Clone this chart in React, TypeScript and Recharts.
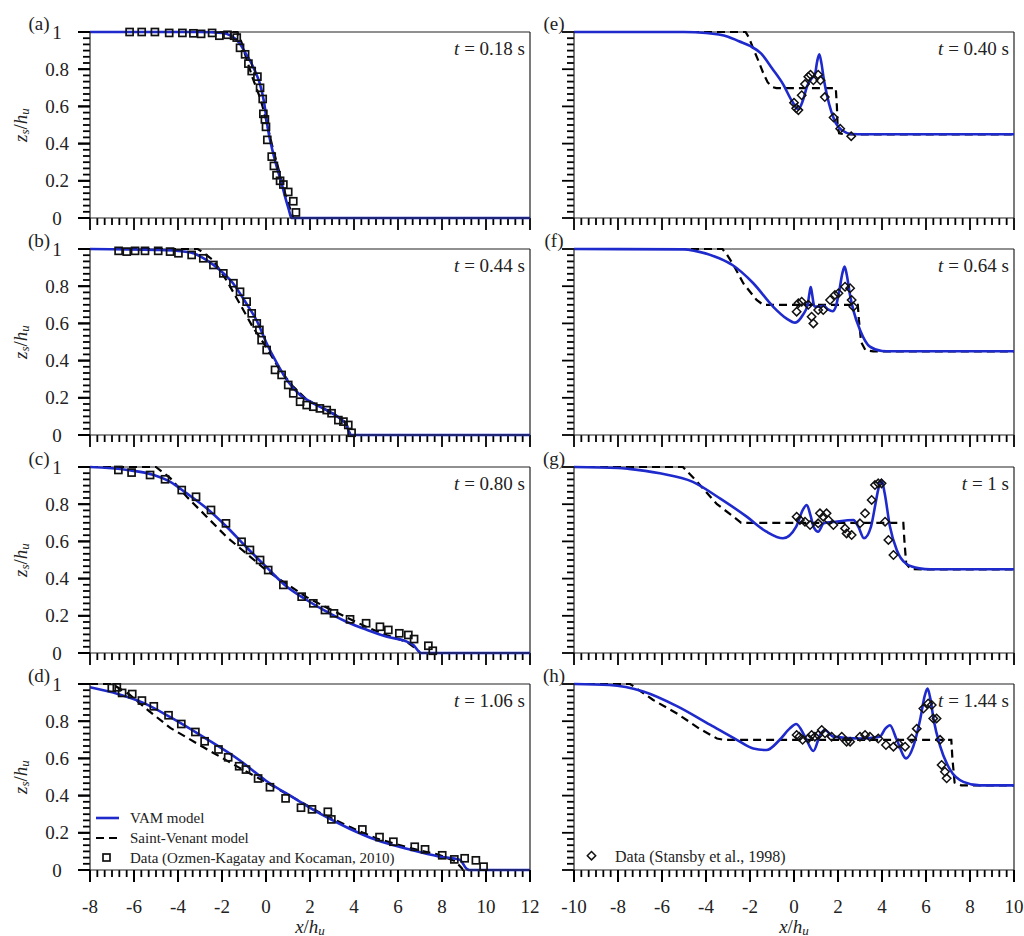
import React from 'react';
import { ComposedChart, Line, Scatter, XAxis, YAxis, ReferenceLine } from 'recharts';

type Pt = [number, number];

// ---------- Tick labels ----------
const leftMajorX = [-8, -6, -4, -2, 0, 2, 4, 6, 8, 10, 12];
const rightMajorX = [-10, -8, -6, -4, -2, 0, 2, 4, 6, 8, 10];
const majorY = [0, 0.2, 0.4, 0.6, 0.8, 1];

// ---------- Panel (a) t = 0.18 s ----------
const vamA: Pt[] = [[-8, 1], [-3, 1], [-2, 0.995], [-1.6, 0.98], [-1.2, 0.94], [-0.9, 0.88], [-0.7, 0.84], [-0.5, 0.79], [-0.3, 0.73], [-0.1, 0.63], [0.1, 0.47], [0.3, 0.36], [0.5, 0.27], [0.7, 0.19], [0.9, 0.1], [1.05, 0.04], [1.15, 0], [12, 0]];
const svA: Pt[] = [[-8, 1], [-1.3, 1], [-1.1, 0.94], [-0.9, 0.86], [-0.6, 0.75], [-0.25, 0.64], [0, 0.53], [0.3, 0.38], [0.6, 0.25], [0.9, 0.12], [1.15, 0.03], [1.25, 0], [12, 0]];
const obsA: Pt[] = [[-6.2, 1], [-5.65, 1], [-5.05, 1], [-4.4, 0.995], [-3.8, 0.995], [-3.3, 0.993], [-2.95, 0.99], [-2.45, 0.995], [-2.12, 0.98], [-1.75, 0.985], [-1.45, 0.98], [-1.33, 0.97], [-1.18, 0.915], [-0.95, 0.88], [-0.8, 0.83], [-0.65, 0.79], [-0.39, 0.76], [-0.27, 0.7], [-0.15, 0.64], [-0.12, 0.56], [-0.05, 0.53], [0.0, 0.49], [0.06, 0.42], [0.26, 0.33], [0.36, 0.28], [0.48, 0.23], [0.64, 0.2], [0.79, 0.18], [1.01, 0.14], [1.24, 0.09], [1.36, 0.03]];

// ---------- Panel (b) t = 0.44 s ----------
const vamB: Pt[] = [[-8, 1], [-5, 0.995], [-4, 0.99], [-3.3, 0.977], [-2.7, 0.94], [-2.1, 0.887], [-1.5, 0.816], [-0.9, 0.708], [-0.4, 0.61], [0, 0.5], [0.5, 0.385], [0.95, 0.296], [1.55, 0.215], [2.15, 0.17], [2.75, 0.134], [3.35, 0.09], [3.65, 0.055], [3.8, 0.01], [3.85, 0], [12, 0]];
const svB: Pt[] = [[-8, 1], [-3.1, 1], [-2.9, 0.985], [-2.4, 0.94], [-1.8, 0.833], [-1.2, 0.708], [-0.6, 0.58], [0, 0.475], [0.6, 0.355], [1.2, 0.265], [1.85, 0.19], [2.45, 0.152], [3.05, 0.117], [3.65, 0.065], [3.8, 0.01], [3.85, 0], [12, 0]];
const obsB: Pt[] = [[-6.7, 0.99], [-6.33, 0.986], [-5.95, 0.99], [-5.5, 0.99], [-4.9, 0.99], [-4.36, 0.986], [-3.98, 0.977], [-3.38, 0.968], [-2.85, 0.95], [-2.39, 0.914], [-1.94, 0.869], [-1.48, 0.816], [-1.18, 0.77], [-0.88, 0.717], [-0.65, 0.654], [-0.42, 0.6], [-0.3, 0.565], [-0.2, 0.51], [0.03, 0.457], [0.41, 0.35], [0.71, 0.323], [1.01, 0.269], [1.24, 0.224], [1.55, 0.179], [1.85, 0.161], [2.15, 0.152], [2.45, 0.143], [2.76, 0.134], [2.98, 0.117], [3.29, 0.08], [3.52, 0.072], [3.74, 0.054], [3.89, 0.012]];

// ---------- Panel (c) t = 0.80 s ----------
const vamC: Pt[] = [[-8, 1], [-6.3, 0.984], [-5.1, 0.957], [-4.35, 0.92], [-3.6, 0.858], [-2.7, 0.778], [-1.8, 0.68], [-0.9, 0.57], [0, 0.464], [0.95, 0.356], [1.85, 0.285], [2.75, 0.222], [3.65, 0.168], [4.6, 0.124], [5.5, 0.088], [6.4, 0.061], [6.7, 0.043], [7.0, 0.002], [7.05, 0], [12, 0]];
const svC: Pt[] = [[-8, 1], [-5.0, 1], [-4.35, 0.94], [-3.6, 0.84], [-2.7, 0.733], [-1.8, 0.625], [-0.9, 0.536], [0, 0.446], [0.95, 0.37], [1.85, 0.3], [2.75, 0.245], [3.65, 0.192], [4.6, 0.138], [5.5, 0.095], [6.4, 0.06], [6.9, 0.016], [7.0, 0], [12, 0]];
const obsC: Pt[] = [[-6.71, 0.984], [-6.11, 0.97], [-5.27, 0.957], [-4.59, 0.934], [-3.83, 0.876], [-3.18, 0.84], [-2.5, 0.769], [-1.82, 0.697], [-1.11, 0.598], [-0.73, 0.554], [-0.27, 0.5], [0.1, 0.446], [0.79, 0.366], [1.62, 0.303], [2.15, 0.267], [2.68, 0.231], [3.09, 0.213], [3.82, 0.181], [4.55, 0.16], [5.18, 0.141], [5.56, 0.124], [6.06, 0.106], [6.47, 0.097], [6.73, 0.075], [7.38, 0.039], [7.58, 0.012]];

// ---------- Panel (d) t = 1.06 s ----------
const vamD: Pt[] = [[-8, 0.982], [-6.7, 0.945], [-5.6, 0.9], [-4.35, 0.822], [-2.8, 0.712], [-1.2, 0.59], [0, 0.48], [1.3, 0.385], [2.5, 0.3], [3.8, 0.222], [5.0, 0.162], [6.6, 0.108], [7.85, 0.073], [8.8, 0.055], [9.15, 0.004], [9.25, 0], [12, 0]];
const svD: Pt[] = [[-8, 1], [-7.0, 1], [-6.2, 0.943], [-5.3, 0.853], [-4.35, 0.764], [-2.8, 0.657], [-1.2, 0.549], [0, 0.472], [1.3, 0.385], [2.5, 0.305], [3.8, 0.232], [5.0, 0.17], [6.6, 0.116], [7.85, 0.082], [8.6, 0.048], [8.9, 0.01], [8.95, 0], [12, 0]];
const obsD: Pt[] = [[-7.01, 0.979], [-6.78, 0.982], [-6.54, 0.952], [-6.08, 0.946], [-5.64, 0.911], [-5.1, 0.88], [-4.43, 0.832], [-3.85, 0.785], [-3.21, 0.742], [-2.79, 0.692], [-2.16, 0.648], [-1.72, 0.606], [-1.22, 0.558], [-0.91, 0.54], [-0.36, 0.492], [0.18, 0.445], [0.89, 0.385], [1.59, 0.335], [2.09, 0.326], [2.81, 0.313], [2.97, 0.272], [4.38, 0.218], [5.16, 0.177], [5.79, 0.152], [6.76, 0.125], [7.23, 0.111], [8.01, 0.079], [8.56, 0.057], [9.03, 0.063], [9.54, 0.052], [9.89, 0.018]];

// ---------- Panel (e) t = 0.40 s ----------
const vamE: Pt[] = [[-10, 1], [-5, 1], [-4, 0.995], [-3, 0.975], [-2.5, 0.95], [-2, 0.925], [-1.5, 0.885], [-1, 0.805], [-0.5, 0.72], [-0.1, 0.63], [0.2, 0.585], [0.4, 0.63], [0.6, 0.71], [0.8, 0.75], [0.95, 0.77], [1.05, 0.84], [1.15, 0.88], [1.25, 0.83], [1.35, 0.75], [1.5, 0.66], [1.7, 0.57], [1.9, 0.51], [2.2, 0.47], [2.6, 0.452], [3.2, 0.45], [10, 0.45]];
const svE: Pt[] = [[-10, 1], [-2.2, 1], [-2.05, 0.97], [-1.85, 0.91], [-1.6, 0.84], [-1.4, 0.78], [-1.2, 0.73], [-1.0, 0.705], [-0.8, 0.698], [1.9, 0.698], [1.95, 0.6], [1.98, 0.5], [2.05, 0.455], [2.3, 0.45], [10, 0.45]];
const obsE: Pt[] = [[0.0, 0.62], [0.1, 0.59], [0.2, 0.58], [0.35, 0.66], [0.5, 0.72], [0.65, 0.76], [0.75, 0.77], [0.88, 0.74], [1.1, 0.77], [1.2, 0.74], [1.4, 0.65], [1.8, 0.54], [2.1, 0.48], [2.6, 0.44]];

// ---------- Panel (f) t = 0.64 s ----------
const vamF: Pt[] = [[-10, 1], [-5, 0.998], [-4.5, 0.99], [-3.4, 0.95], [-2.8, 0.914], [-1.85, 0.816], [-0.95, 0.69], [-0.35, 0.627], [0.05, 0.604], [0.4, 0.645], [0.62, 0.7], [0.7, 0.76], [0.76, 0.795], [0.82, 0.76], [0.9, 0.7], [0.95, 0.69], [1.15, 0.69], [1.35, 0.695], [1.55, 0.675], [1.75, 0.665], [1.9, 0.69], [2.05, 0.77], [2.2, 0.87], [2.3, 0.905], [2.4, 0.86], [2.55, 0.75], [2.7, 0.67], [3.0, 0.565], [3.45, 0.475], [4.0, 0.452], [4.4, 0.45], [10, 0.45]];
const svF: Pt[] = [[-10, 1], [-3.25, 1], [-3.05, 0.97], [-2.75, 0.914], [-2.3, 0.815], [-1.7, 0.726], [-1.4, 0.7], [2.9, 0.7], [2.95, 0.62], [3.05, 0.5], [3.25, 0.455], [3.6, 0.45], [10, 0.45]];
const obsF: Pt[] = [[0.12, 0.663], [0.2, 0.708], [0.35, 0.717], [0.65, 0.7], [0.8, 0.636], [0.88, 0.6], [1.1, 0.672], [1.33, 0.672], [1.64, 0.726], [1.86, 0.753], [2.02, 0.762], [2.32, 0.797], [2.55, 0.789], [2.62, 0.726], [2.7, 0.69]];

// ---------- Panel (g) t = 1 s ----------
const vamG: Pt[] = [[-10, 1], [-8, 0.995], [-7.5, 0.99], [-6.1, 0.966], [-4.6, 0.92], [-3.35, 0.83], [-2.15, 0.733], [-1.25, 0.652], [-0.5, 0.617], [0.1, 0.68], [0.4, 0.77], [0.58, 0.796], [0.75, 0.74], [0.9, 0.675], [1.1, 0.652], [1.35, 0.697], [1.9, 0.706], [2.7, 0.715], [2.92, 0.68], [3.18, 0.617], [3.5, 0.68], [3.7, 0.8], [3.83, 0.88], [3.98, 0.93], [4.12, 0.86], [4.36, 0.68], [4.67, 0.554], [5.1, 0.48], [5.7, 0.455], [6.2, 0.45], [10, 0.45]];
const svG: Pt[] = [[-10, 1], [-5.05, 1], [-4.4, 0.92], [-3.5, 0.8], [-2.75, 0.733], [-2.4, 0.7], [4.97, 0.7], [5.02, 0.6], [5.1, 0.48], [5.3, 0.452], [5.8, 0.45], [10, 0.45]];
const obsG: Pt[] = [[0.12, 0.733], [0.27, 0.715], [0.5, 0.706], [0.73, 0.688], [1.1, 0.697], [1.18, 0.751], [1.33, 0.733], [1.48, 0.751], [1.56, 0.715], [1.79, 0.688], [2.32, 0.67], [2.39, 0.643], [2.62, 0.634], [3.0, 0.697], [3.23, 0.751], [3.53, 0.823], [3.68, 0.903], [3.83, 0.912], [3.98, 0.912], [4.14, 0.706], [4.29, 0.608], [4.52, 0.527]];

// ---------- Panel (h) t = 1.44 s ----------
const vamH: Pt[] = [[-10, 1], [-8.4, 0.995], [-6.85, 0.96], [-5.3, 0.88], [-3.8, 0.78], [-2.6, 0.7], [-1.85, 0.653], [-1.25, 0.645], [-0.65, 0.7], [-0.2, 0.76], [0.1, 0.785], [0.5, 0.717], [0.88, 0.64], [1.2, 0.73], [1.4, 0.753], [1.8, 0.717], [3.0, 0.707], [3.9, 0.717], [4.15, 0.76], [4.36, 0.778], [4.67, 0.7], [5.1, 0.6], [5.42, 0.663], [5.73, 0.806], [5.95, 0.94], [6.07, 0.975], [6.2, 0.92], [6.35, 0.806], [6.65, 0.663], [7.1, 0.538], [7.7, 0.474], [8.45, 0.455], [10, 0.455]];
const svH: Pt[] = [[-10, 1], [-7.45, 1], [-6.4, 0.914], [-5.3, 0.84], [-4.3, 0.76], [-3.5, 0.707], [-3.2, 0.7], [7.15, 0.7], [7.2, 0.6], [7.3, 0.47], [7.6, 0.455], [8.2, 0.455], [10, 0.455]];
const obsH: Pt[] = [[0.12, 0.726], [0.24, 0.717], [0.39, 0.7], [0.65, 0.707], [0.8, 0.726], [0.95, 0.717], [1.1, 0.726], [1.26, 0.753], [1.41, 0.735], [1.71, 0.717], [2.17, 0.717], [2.39, 0.69], [2.55, 0.69], [3.0, 0.717], [3.23, 0.726], [3.45, 0.717], [3.83, 0.707], [4.18, 0.672], [4.52, 0.663], [4.74, 0.68], [5.05, 0.663], [5.35, 0.707], [5.58, 0.76], [5.88, 0.868], [6.1, 0.895], [6.26, 0.887], [6.33, 0.815], [6.48, 0.815], [6.64, 0.7], [6.71, 0.565], [6.86, 0.528], [6.94, 0.493]];

const panelLabels = ['(a)', '(b)', '(c)', '(d)', '(e)', '(f)', '(g)', '(h)'];
const timeLabels = ['0.18 s', '0.44 s', '0.80 s', '1.06 s', '0.40 s', '0.64 s', '1 s', '1.44 s'];
const legendLeft = ['VAM model', 'Saint-Venant model', 'Data (Ozmen-Kagatay and Kocaman, 2010)'];
const legendRight = ['Data (Stansby et al., 1998)'];

// ---------- Styling / layout ----------
const BLUE = '#1f2acc';
const AXIS = '#222';
const TICK = '#000';
const FONT = '"Liberation Serif", "Times New Roman", Times, serif';
const ROW_TOPS = [32, 249, 467, 684];
const PLOT_H = 186;
const PLOT_W = 440;
const LEFT_X0 = 90;
const RIGHT_X0 = 574;
const MAJOR_LEN = 12;
const MINOR_LEN = 7;

function withMinor(majors: number[], parts: number): number[] {
  const out: number[] = [];
  for (let i = 0; i < majors.length - 1; i++) {
    for (let k = 0; k < parts; k++) {
      out.push(majors[i] + ((majors[i + 1] - majors[i]) * k) / parts);
    }
  }
  out.push(majors[majors.length - 1]);
  return out;
}

const isMajor = (v: number, majors: number[]) => majors.some((m) => Math.abs(m - v) < 1e-6);
const toObj = (pts: Pt[]) => pts.map(([x, y]) => ({ x, y }));
const fmtX = (v: number) => (v < 0 ? '-' + Math.abs(v) : String(v));
const fmtY = (v: number) => (Math.abs(v - 1) < 1e-9 ? '1' : Math.abs(v) < 1e-9 ? '0' : v.toFixed(1));

const xLabel = (props: any) => {
  const { x, y, payload } = props;
  return (
    <text x={x} y={y + 24} textAnchor="middle" dominantBaseline="central" fontFamily={FONT} fontSize={19} fill="#222">
      {fmtX(payload.value)}
    </text>
  );
};
const yLabel = (props: any) => {
  const { x, y, payload } = props;
  return (
    <text x={x - 21} y={y} textAnchor="middle" dominantBaseline="central" fontFamily={FONT} fontSize={19} fill="#222">
      {fmtY(payload.value)}
    </text>
  );
};

const SquareMark = (p: any) => (
  <rect x={p.cx - 3.5} y={p.cy - 3.5} width={7} height={7} fill="none" stroke="#111" strokeWidth={1.7} />
);
const DiamondMark = (p: any) => (
  <polygon
    points={`${p.cx},${p.cy - 4.2} ${p.cx + 4.2},${p.cy} ${p.cx},${p.cy + 4.2} ${p.cx - 4.2},${p.cy}`}
    fill="none"
    stroke="#111"
    strokeWidth={1.5}
  />
);

type PanelCfg = { left: boolean; row: number; vam: Pt[]; sv: Pt[]; obs: Pt[] };

const panels: PanelCfg[] = [
  { left: true, row: 0, vam: vamA, sv: svA, obs: obsA },
  { left: true, row: 1, vam: vamB, sv: svB, obs: obsB },
  { left: true, row: 2, vam: vamC, sv: svC, obs: obsC },
  { left: true, row: 3, vam: vamD, sv: svD, obs: obsD },
  { left: false, row: 0, vam: vamE, sv: svE, obs: obsE },
  { left: false, row: 1, vam: vamF, sv: svF, obs: obsF },
  { left: false, row: 2, vam: vamG, sv: svG, obs: obsG },
  { left: false, row: 3, vam: vamH, sv: svH, obs: obsH },
];

const leftMinor = withMinor(leftMajorX, 6);
const rightMinor = withMinor(rightMajorX, 6);
const yMinor = withMinor(majorY, 6);
const tickLineStyle = { stroke: TICK, strokeWidth: 2 };

function Panel({ cfg }: { cfg: PanelCfg }) {
  const bottom = cfg.row === 3;
  const xAxisH = bottom ? 76 : 16;
  const top = ROW_TOPS[cfg.row];
  const yW = cfg.left ? LEFT_X0 : 40;
  const divLeft = cfg.left ? 0 : RIGHT_X0 - 40;
  const majors = cfg.left ? leftMajorX : rightMajorX;
  const allX = cfg.left ? leftMinor : rightMinor;
  const dom: [number, number] = [majors[0], majors[majors.length - 1]];
  const w = yW + PLOT_W + 10;
  // tick lengths converted to data units so the library scales place them
  const xUnitPerPx = (dom[1] - dom[0]) / PLOT_W;
  const yUnitPerPx = 1 / PLOT_H;
  return (
    <div style={{ position: 'absolute', left: divLeft, top: top - 10 }}>
      <ComposedChart width={w} height={10 + PLOT_H + xAxisH} margin={{ top: 10, right: 10, bottom: 0, left: 0 }}>
        <XAxis
          type="number"
          dataKey="x"
          domain={dom}
          ticks={majors}
          interval={0}
          height={xAxisH}
          tickSize={MAJOR_LEN}
          tickMargin={0}
          tickLine={tickLineStyle}
          axisLine={{ stroke: AXIS, strokeWidth: 1.2 }}
          tick={bottom ? xLabel : false}
        />
        <YAxis
          type="number"
          domain={[0, 1]}
          ticks={majorY}
          interval={0}
          width={yW}
          tickSize={MAJOR_LEN}
          tickMargin={0}
          tickLine={tickLineStyle}
          axisLine={{ stroke: AXIS, strokeWidth: 1.2 }}
          tick={cfg.left ? yLabel : false}
        />
        <ReferenceLine y={1} stroke={AXIS} strokeWidth={1.2} />
        <ReferenceLine x={dom[1]} stroke={AXIS} strokeWidth={1.2} />
        {allX.map((v, i) => {
          const len = (isMajor(v, majors) ? MAJOR_LEN : MINOR_LEN) * yUnitPerPx;
          return (
            <ReferenceLine
              key={'xt' + i}
              segment={[{ x: v, y: 0 }, { x: v, y: -len }]}
              ifOverflow="visible"
              stroke={TICK}
              strokeWidth={1.8}
            />
          );
        })}
        {yMinor.map((v, i) => {
          const len = (isMajor(v, majorY) ? MAJOR_LEN : MINOR_LEN) * xUnitPerPx;
          return (
            <ReferenceLine
              key={'yt' + i}
              segment={[{ x: dom[0] - len, y: v }, { x: dom[0], y: v }]}
              ifOverflow="visible"
              stroke={TICK}
              strokeWidth={1.8}
            />
          );
        })}
        <Scatter data={toObj(cfg.obs)} dataKey="y" shape={cfg.left ? SquareMark : DiamondMark} isAnimationActive={false} />
        <Line
          data={toObj(cfg.sv)}
          dataKey="y"
          type="linear"
          stroke="#000"
          strokeWidth={2.2}
          strokeDasharray="8 5"
          dot={false}
          activeDot={false}
          isAnimationActive={false}
        />
        <Line
          data={toObj(cfg.vam)}
          dataKey="y"
          type="monotone"
          stroke={BLUE}
          strokeWidth={2.6}
          dot={false}
          activeDot={false}
          isAnimationActive={false}
        />
      </ComposedChart>
    </div>
  );
}

function YTitle({ cy }: { cy: number }) {
  return (
    <text x={20} y={cy} transform={`rotate(-90 20 ${cy})`} textAnchor="middle" dominantBaseline="central" fontFamily={FONT} fontSize={19} fill="#222">
      <tspan fontStyle="italic">z</tspan>
      <tspan fontStyle="italic" fontSize={13} dy={4}>s</tspan>
      <tspan dy={-4}>/</tspan>
      <tspan fontStyle="italic">h</tspan>
      <tspan fontStyle="italic" fontSize={13} dy={4}>u</tspan>
    </text>
  );
}

function XTitle({ cx }: { cx: number }) {
  return (
    <text x={cx} y={926} textAnchor="middle" dominantBaseline="central" fontFamily={FONT} fontSize={19} fill="#222">
      <tspan fontStyle="italic">x</tspan>
      <tspan>/</tspan>
      <tspan fontStyle="italic">h</tspan>
      <tspan fontStyle="italic" fontSize={13} dy={4}>u</tspan>
    </text>
  );
}

function Overlay() {
  return (
    <svg width={1024} height={936} style={{ position: 'absolute', left: 0, top: 0, pointerEvents: 'none' }}>
      {panels.map((p, i) => {
        const top = ROW_TOPS[p.row];
        const plotRight = (p.left ? LEFT_X0 : RIGHT_X0) + PLOT_W;
        return (
          <g key={i}>
            <text x={p.left ? 39 : 554} y={top - 9} textAnchor="middle" dominantBaseline="central" fontFamily={FONT} fontSize={19} fill="#222">
              {panelLabels[i]}
            </text>
            <text x={plotRight - 5} y={top + 16} textAnchor="end" dominantBaseline="central" fontFamily={FONT} fontSize={19} fill="#222">
              <tspan fontStyle="italic">t</tspan>
              <tspan>{' = ' + timeLabels[i]}</tspan>
            </text>
          </g>
        );
      })}
      {ROW_TOPS.map((t, i) => (
        <YTitle key={i} cy={t + PLOT_H / 2} />
      ))}
      <XTitle cx={LEFT_X0 + PLOT_W / 2} />
      <XTitle cx={RIGHT_X0 + PLOT_W / 2} />
      {/* legend (d) */}
      <line x1={96} x2={119} y1={818} y2={818} stroke={BLUE} strokeWidth={2.6} />
      <line x1={96} x2={119} y1={838} y2={838} stroke="#000" strokeWidth={2.2} strokeDasharray="8 5" />
      <rect x={103} y={854} width={7} height={7} fill="none" stroke="#111" strokeWidth={1.7} />
      {legendLeft.map((s, i) => (
        <text key={s} x={130} y={818 + i * 20} dominantBaseline="central" fontFamily={FONT} fontSize={15} fill="#222">
          {s}
        </text>
      ))}
      {/* legend (h) */}
      <polygon points="591.5,851.5 595.7,855.7 591.5,859.9 587.3,855.7" fill="none" stroke="#111" strokeWidth={1.5} />
      <text x={615} y={856} dominantBaseline="central" fontFamily={FONT} fontSize={16} fill="#222">
        {legendRight[0]}
      </text>
    </svg>
  );
}

export default function App() {
  return (
    <div style={{ position: 'absolute', left: 0, top: 0, width: 1024, height: 936, background: '#fff', fontFamily: FONT }}>
      {panels.map((p, i) => (
        <Panel key={i} cfg={p} />
      ))}
      <Overlay />
    </div>
  );
}
